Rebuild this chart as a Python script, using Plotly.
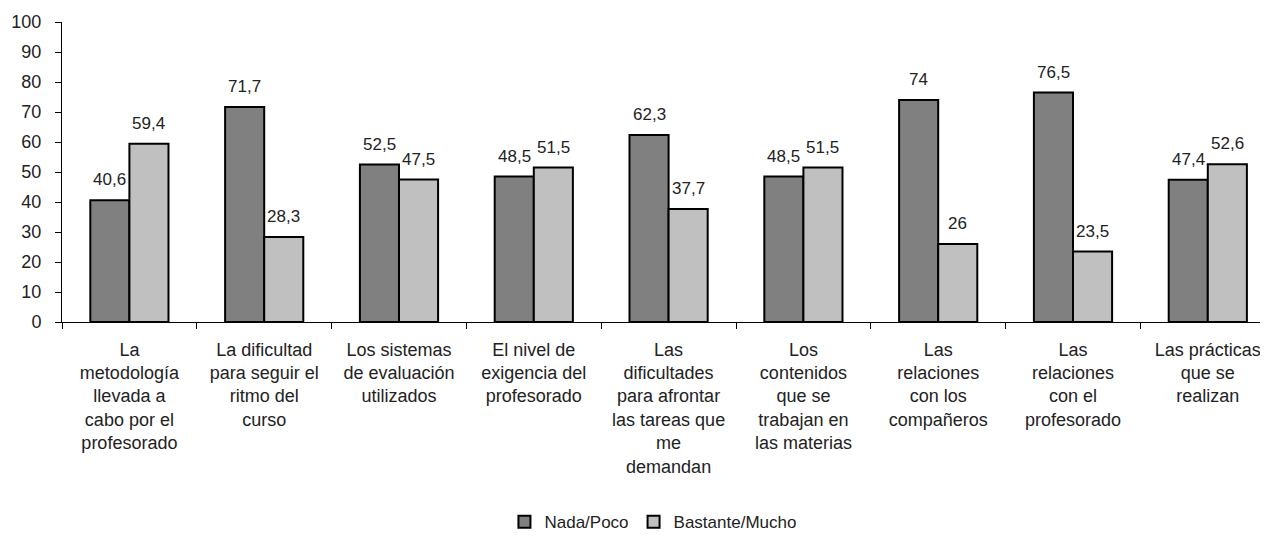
import plotly.graph_objects as go

categories = [
    "La<br>metodología<br>llevada a<br>cabo por el<br>profesorado",
    "La dificultad<br>para seguir el<br>ritmo del<br>curso",
    "Los sistemas<br>de evaluación<br>utilizados",
    "El nivel de<br>exigencia del<br>profesorado",
    "Las<br>dificultades<br>para afrontar<br>las tareas que<br>me<br>demandan",
    "Los<br>contenidos<br>que se<br>trabajan en<br>las materias",
    "Las<br>relaciones<br>con los<br>compañeros",
    "Las<br>relaciones<br>con el<br>profesorado",
    "Las prácticas<br>que se<br>realizan",
]
nada_poco = [40.6, 71.7, 52.5, 48.5, 62.3, 48.5, 74, 76.5, 47.4]
bastante_mucho = [59.4, 28.3, 47.5, 51.5, 37.7, 51.5, 26, 23.5, 52.6]
series_names = ["Nada/Poco", "Bastante/Mucho"]
y_ticks = list(range(0, 101, 10))

FONT = "Liberation Sans, Arial, sans-serif"
TXT = "#222222"


def fmt(v):
    return f"{v:g}".replace(".", ",")


fig = go.Figure()
fig.add_trace(go.Bar(
    x=categories, y=nada_poco, name=series_names[0],
    marker=dict(color="#808080", line=dict(color="#000000", width=2)),
))
fig.add_trace(go.Bar(
    x=categories, y=bastante_mucho, name=series_names[1],
    marker=dict(color="#C0C0C0", line=dict(color="#000000", width=2)),
))

annotations = []
for cat, a, b in zip(categories, nada_poco, bastante_mucho):
    for val, shift in ((a, -19.5), (b, 19.5)):
        annotations.append(dict(
            x=cat, y=val, xref="x", yref="y", text=fmt(val),
            showarrow=False, xshift=shift, yshift=9, yanchor="bottom",
            font=dict(family=FONT, size=17, color=TXT),
        ))

# the page body adds an 8px offset on the left and top
W, H = 1260, 527
ml, mr, mt, mb = 54, 0, 14, 213
cat_px = 134.8
plot_w = W - ml - mr

fig.update_layout(
    width=W, height=H,
    margin=dict(l=ml, r=mr, t=mt, b=mb, autoexpand=False),
    paper_bgcolor="white", plot_bgcolor="white",
    barmode="group", bargap=0.42, bargroupgap=0,
    font=dict(family=FONT, size=17, color=TXT),
    showlegend=True,
    legend=dict(
        orientation="h", x=0.49, xanchor="center", y=-0.667, yanchor="middle",
        font=dict(family=FONT, size=17, color=TXT),
        traceorder="normal", itemwidth=30,
    ),
    annotations=annotations,
    xaxis=dict(
        type="category",
        range=[-0.5, -0.5 + plot_w / cat_px],
        showline=True, linecolor="#000000", linewidth=1,
        ticks="outside", tickson="boundaries", ticklen=6, tickcolor="#000000",
        tickfont=dict(family=FONT, size=18, color=TXT),
        ticklabelstandoff=11,
        showgrid=False, zeroline=False, tickangle=0, automargin=False,
    ),
    yaxis=dict(
        range=[0, 100], tickvals=y_ticks,
        showline=True, linecolor="#000000", linewidth=1,
        ticks="outside", ticklen=6, tickcolor="#000000",
        tickfont=dict(family=FONT, size=18, color=TXT),
        ticklabelstandoff=10,
        showgrid=False, zeroline=False, automargin=False,
    ),
)

fig.write_html("out.html")
